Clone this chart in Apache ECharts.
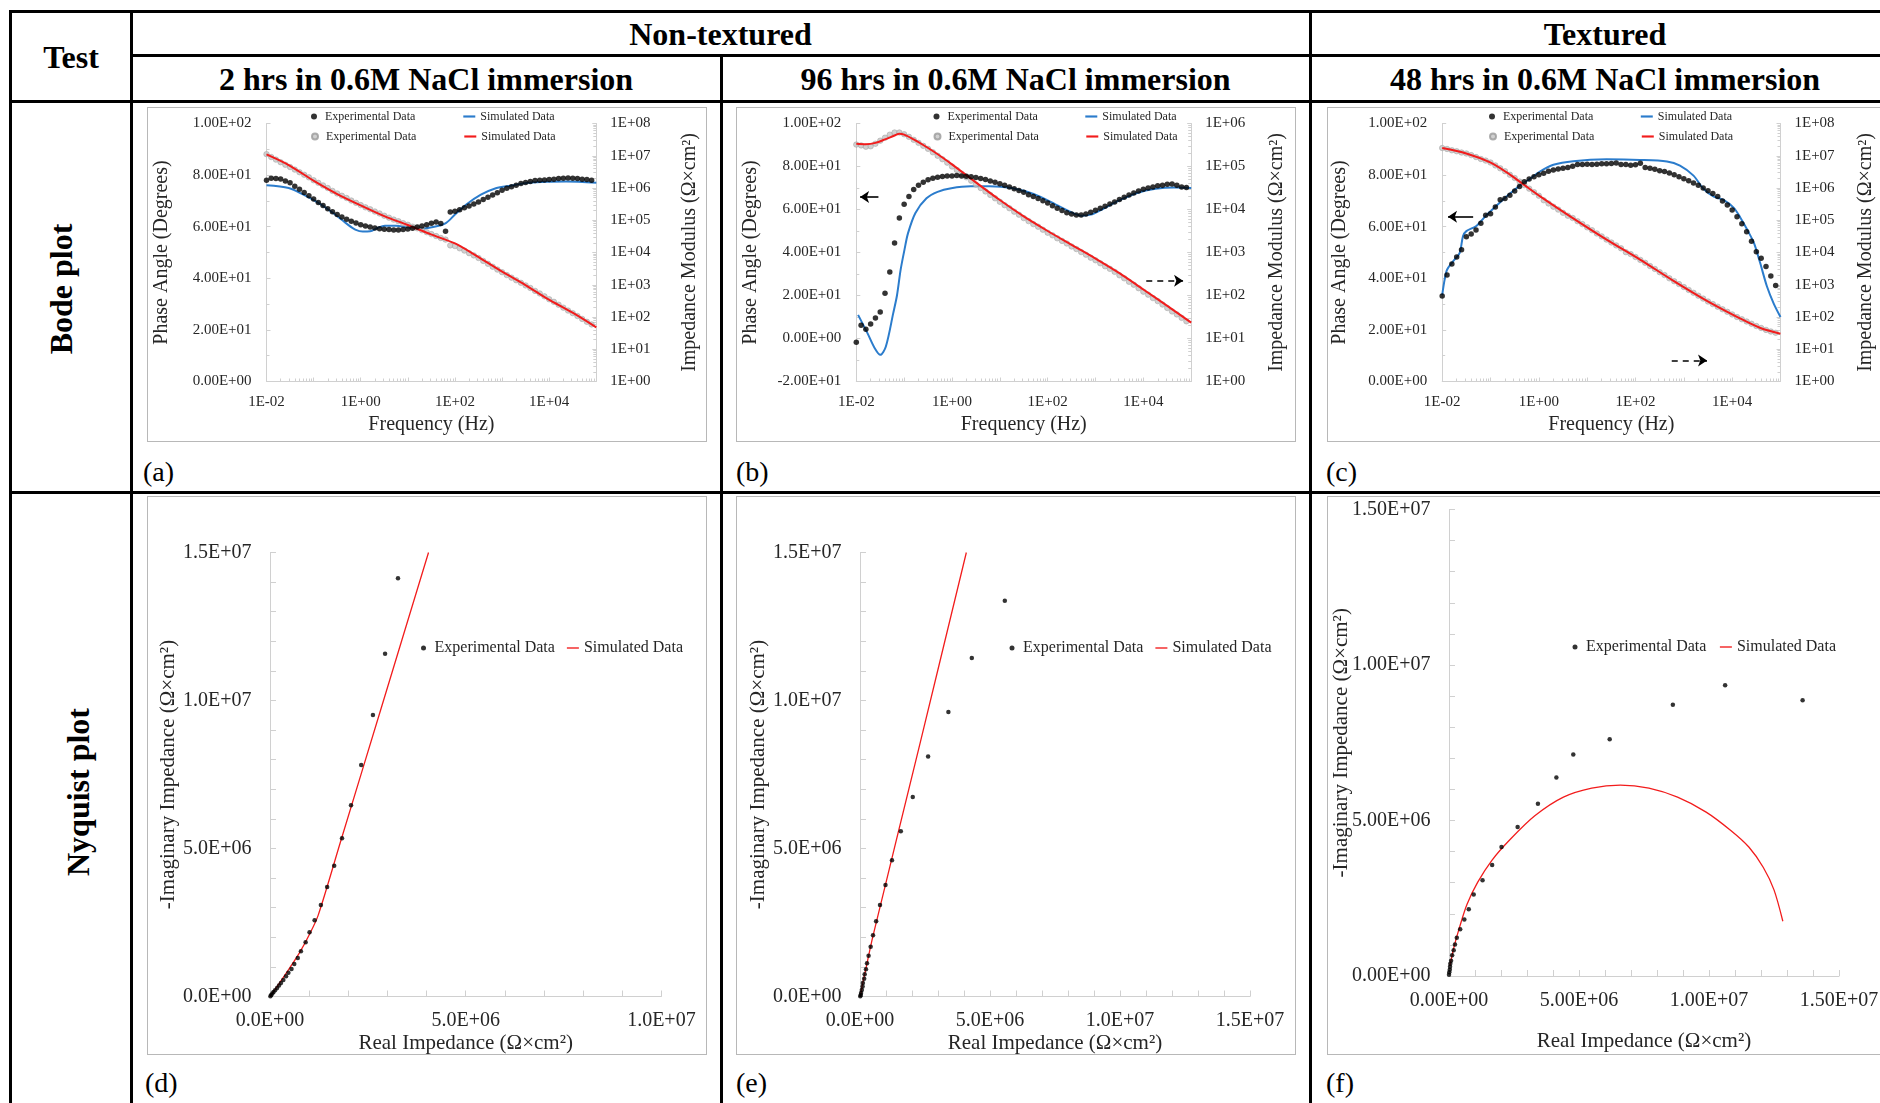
<!DOCTYPE html>
<html>
<head>
<meta charset="utf-8">
<script src="https://cdn.jsdelivr.net/npm/echarts@6/dist/echarts.min.js"></script>
<style>
body { margin: 0; background: #fff; }
#page { position: relative; width: 1880px; height: 1103px; overflow: hidden; font-family: 'Liberation Serif', 'Times New Roman', serif; color: #000; }
.ln { position: absolute; background: #000; }
.hd { position: absolute; transform: translate(-50%, -50%); white-space: nowrap; font-weight: bold; font-size: 32px; line-height: 1; }
.vt { position: absolute; transform: translate(-50%, -50%) rotate(-90deg); white-space: nowrap; font-weight: bold; font-size: 32px; line-height: 1; }
.tag { position: absolute; font-size: 28px; line-height: 1; transform: translateY(-50%); }
.box { position: absolute; border: 1px solid #b8b8b8; width: 558px; }
.bode { height: 333px; top: 107px; }
.nyq { height: 557px; top: 496px; }
.box > div { width: 100%; height: 100%; }
</style>
</head>
<body>
<div id="page">
    <!-- table rules -->
    <div class="ln" style="left:10px;top:10px;width:1900px;height:3px"></div>
    <div class="ln" style="left:131px;top:54px;width:1800px;height:3px"></div>
    <div class="ln" style="left:10px;top:99.5px;width:1900px;height:3px"></div>
    <div class="ln" style="left:10px;top:491px;width:1900px;height:3px"></div>
    <div class="ln" style="left:8.5px;top:10px;width:3px;height:1200px"></div>
    <div class="ln" style="left:130px;top:10px;width:3px;height:1200px"></div>
    <div class="ln" style="left:719.5px;top:54px;width:3px;height:1200px"></div>
    <div class="ln" style="left:1308.5px;top:10px;width:3px;height:1200px"></div>

    <!-- headers -->
    <div class="hd" style="left:71px;top:57px">Test</div>
    <div class="hd" style="left:720.5px;top:34px">Non-textured</div>
    <div class="hd" style="left:1605px;top:34px">Textured</div>
    <div class="hd" style="left:426px;top:79px">2 hrs in 0.6M NaCl immersion</div>
    <div class="hd" style="left:1015.5px;top:79px">96 hrs in 0.6M NaCl immersion</div>
    <div class="hd" style="left:1605px;top:79px">48 hrs in 0.6M NaCl immersion</div>
    <div class="vt" style="left:61px;top:289px">Bode plot</div>
    <div class="vt" style="left:78px;top:792px">Nyquist plot</div>

    <!-- chart boxes -->
    <div class="box bode" style="left:146.5px"><div id="chartA"></div></div>
    <div class="box bode" style="left:735.5px"><div id="chartB"></div></div>
    <div class="box bode" style="left:1326.5px"><div id="chartC"></div></div>
    <div class="box nyq" style="left:146.5px"><div id="chartD"></div></div>
    <div class="box nyq" style="left:735.5px"><div id="chartE"></div></div>
    <div class="box nyq" style="left:1326.5px"><div id="chartF"></div></div>

    <div class="tag" style="left:143px;top:472px">(a)</div>
    <div class="tag" style="left:736px;top:472px">(b)</div>
    <div class="tag" style="left:1326px;top:472px">(c)</div>
    <div class="tag" style="left:145px;top:1083px">(d)</div>
    <div class="tag" style="left:736px;top:1083px">(e)</div>
    <div class="tag" style="left:1326px;top:1083px">(f)</div>
</div>

<script>
const SERIF = "'Liberation Serif', 'Times New Roman', serif"
const BLUE = '#2b7ccc'
const RED = '#f21c1c'
const AXIS_GREY = '#d0d0d0'
const TXT = '#262626'
const LINE_ICON = 'path://M0 0 L14 0 L14 2.5 L0 2.5 Z'

// measured frequencies, ten per decade
const MANT = [1, 1.259, 1.585, 1.995, 2.512, 3.162, 3.981, 5.012, 6.31, 7.943]
const DECADES = [0.01, 0.1, 1, 10, 100, 1000, 10000]
const FREQ = DECADES.flatMap(d => MANT.map(m => +(d * m).toPrecision(4)))

// ---- (a) non-textured, 2 hrs ----
const aPhaseExp = [78.0, 78.8, 78.7, 78.5, 77.7, 77.0, 75.7, 74.5, 73.3, 72.0,
    70.7, 69.4, 68.2, 67.0, 65.8, 64.7, 63.8, 62.9, 62.1, 61.4,
    60.8, 60.3, 59.9, 59.5, 59.2, 59.0, 58.9, 58.7, 58.7, 58.9,
    59.1, 59.4, 59.9, 60.3, 60.8, 61.3, 61.8, 61.2, 58.2, 65.7,
    66.0, 66.6, 67.3, 68.0, 68.8, 69.6, 70.5, 71.4, 72.3, 73.2,
    74.1, 74.9, 75.5, 76.1, 76.7, 77.1, 77.5, 77.9, 78.0, 78.1,
    78.3, 78.4, 78.7, 78.8, 78.9, 78.8, 78.7, 78.4, 78.3, 78.0]
// log10 of |Z|
const aModExp = [7.05, 6.96, 6.88, 6.80, 6.72, 6.65, 6.57, 6.49, 6.41, 6.33,
    6.24, 6.16, 6.08, 6.00, 5.91, 5.83, 5.76, 5.69, 5.61, 5.54,
    5.47, 5.40, 5.34, 5.27, 5.21, 5.14, 5.08, 5.02, 4.97, 4.91,
    4.86, 4.80, 4.75, 4.69, 4.63, 4.57, 4.51, 4.45, 4.40, 4.22,
    4.20, 4.13, 4.06, 3.98, 3.91, 3.83, 3.74, 3.65, 3.56, 3.47,
    3.39, 3.30, 3.22, 3.14, 3.06, 2.98, 2.90, 2.81, 2.73, 2.64,
    2.55, 2.47, 2.38, 2.29, 2.20, 2.12, 2.03, 1.94, 1.85, 1.77]
const aSimPhaseF = [0.01, 0.0296, 0.061, 0.126, 0.259, 0.533, 0.766, 1.1, 1.58, 2.26, 3.25, 5.58, 9.6,
    19.8, 40.8, 64, 100, 174, 355, 736, 1515, 3740, 9230, 22800, 100000]
const aSimPhase = [76.1, 75.0, 72.4, 69.2, 65.3, 60.8, 58.9, 58.1, 58.2, 59.5, 60.4, 60.4, 59.8,
    59.3, 60.2, 61.4, 64.7, 68.6, 72.4, 74.9, 75.9, 77.0, 77.4, 77.5, 77.0]
const aSimModF = [0.01, 0.0296, 0.0993, 0.31, 1.0, 3.25, 9.6, 31, 100, 298, 964, 3126, 9230, 32700, 100000]
const aSimMod = [7.04, 6.71, 6.23, 5.82, 5.46, 5.12, 4.86, 4.56, 4.28, 3.88, 3.42, 2.99, 2.56, 2.12, 1.68]

// ---- (b) non-textured, 96 hrs ----
const bPhaseExp = [-1.7, 6.2, 4.3, 6.7, 9.5, 12.3, 21.1, 30.9, 44.4, 56.1,
    62.4, 66.1, 69.3, 71.3, 72.7, 73.8, 74.5, 75.0, 75.3, 75.6,
    75.6, 75.8, 75.6, 75.5, 75.2, 74.9, 74.4, 73.9, 73.3, 72.7,
    72.0, 71.3, 70.5, 69.6, 68.8, 68.0, 66.9, 66.0, 65.1, 64.1,
    63.0, 61.8, 60.6, 59.5, 58.5, 57.9, 57.5, 57.5, 57.9, 58.7,
    59.6, 60.6, 61.5, 62.6, 63.5, 64.6, 65.7, 66.8, 67.7, 68.6,
    69.4, 70.0, 70.5, 71.1, 71.3, 71.7, 71.9, 71.3, 70.5, 70.2]
const bModExp = [5.51, 5.49, 5.46, 5.47, 5.53, 5.60, 5.67, 5.74, 5.79, 5.79,
    5.75, 5.69, 5.62, 5.55, 5.48, 5.41, 5.33, 5.25, 5.17, 5.09,
    5.00, 4.92, 4.83, 4.75, 4.67, 4.58, 4.50, 4.42, 4.34, 4.26,
    4.18, 4.10, 4.03, 3.95, 3.88, 3.80, 3.73, 3.66, 3.60, 3.53,
    3.46, 3.40, 3.33, 3.27, 3.21, 3.14, 3.08, 3.01, 2.95, 2.88,
    2.82, 2.75, 2.68, 2.62, 2.55, 2.47, 2.40, 2.32, 2.25, 2.17,
    2.09, 2.02, 1.94, 1.87, 1.79, 1.71, 1.63, 1.56, 1.48, 1.40]
const bSimPhaseF = [0.0109, 0.0171, 0.0243, 0.0318, 0.0415, 0.0592, 0.0708, 0.0845, 0.101, 0.1206,
    0.172, 0.293, 0.5, 0.966, 2.48, 6.03, 17.5, 50.9, 148, 301, 513, 800, 1250, 3040, 7400, 18000, 43700, 100000]
const bSimPhase = [11.0, 2.5, -4.5, -7.6, -3.7, 11.8, 20.0, 32.0, 41.0, 49.0,
    58.4, 65.2, 68.2, 69.9, 70.8, 70.8, 70.0, 67.2, 62.3, 58.9, 57.1, 57.6, 59.6, 64.1, 67.7, 69.6, 70.2, 70.0]
const bSimModF = [0.01, 0.0158, 0.0251, 0.0398, 0.0631, 0.0794, 0.1, 0.158, 0.251, 0.398, 0.631, 1,
    3.16, 10, 31.6, 100, 316, 1000, 3160, 10000, 31600, 100000]
const bSimMod = [5.53, 5.52, 5.55, 5.63, 5.72, 5.76, 5.74, 5.63, 5.50, 5.36, 5.21, 5.05,
    4.63, 4.22, 3.84, 3.50, 3.18, 2.86, 2.52, 2.14, 1.76, 1.37]
// arrows: [from, to] as [Hz, degrees]
const bArrowSolid = [[0.029, 65.8], [0.012, 65.8]]
const bArrowDash = [[11500, 26.9], [67600, 26.9]]

// ---- (c) textured, 48 hrs ----
const cPhaseExp = [33.1, 41.3, 45.5, 48.3, 51.1, 56.1, 57.2, 58.7, 61.3, 64.4,
    65.0, 67.6, 70.4, 70.9, 72.2, 73.8, 75.6, 77.4, 78.5, 79.4,
    80.1, 80.7, 81.5, 82.0, 82.4, 82.7, 82.9, 83.4, 84.1, 84.1,
    84.2, 84.1, 84.2, 84.4, 84.4, 84.5, 84.7, 84.1, 84.1, 83.8,
    84.0, 84.6, 82.9, 82.7, 82.3, 81.7, 81.4, 80.8, 80.1, 79.4,
    78.6, 77.8, 76.9, 76.1, 75.0, 73.9, 72.9, 71.7, 70.0, 68.4,
    66.5, 63.9, 61.1, 58.0, 54.4, 50.3, 47.8, 44.6, 40.9, 37.2]
const cModExp = [7.24, 7.21, 7.17, 7.14, 7.10, 7.07, 7.02, 6.96, 6.90, 6.85,
    6.79, 6.70, 6.61, 6.52, 6.41, 6.31, 6.20, 6.09, 5.98, 5.87,
    5.76, 5.62, 5.52, 5.42, 5.33, 5.23, 5.14, 5.07, 4.97, 4.88,
    4.78, 4.69, 4.59, 4.50, 4.40, 4.31, 4.22, 4.13, 4.01, 3.95,
    3.86, 3.77, 3.68, 3.58, 3.49, 3.39, 3.30, 3.20, 3.11, 3.02,
    2.93, 2.84, 2.75, 2.66, 2.57, 2.48, 2.40, 2.32, 2.24, 2.16,
    2.08, 2.00, 1.93, 1.86, 1.79, 1.72, 1.66, 1.60, 1.55, 1.51]
const cSimPhaseF = [0.01, 0.0112, 0.0126, 0.0166, 0.0229, 0.0269, 0.0316, 0.0501, 0.0813, 0.132, 0.214,
    0.398, 0.646, 1.05, 2.0, 5.13, 25.1, 123, 447, 832, 1585, 2570, 4170, 6610, 10700, 14800,
    20400, 28200, 38000, 52500, 72400, 100000]
const cSimPhase = [33.5, 39.4, 43.3, 46.5, 49.8, 56.3, 58.3, 60.2, 64.4, 68.1, 71.7,
    75.9, 78.5, 81.4, 84.0, 85.4, 86.1, 85.9, 85.3, 83.7, 79.8, 74.6, 71.7, 70.4, 67.4, 63.5,
    58.9, 53.7, 45.9, 36.8, 30.2, 25.0]
const cSimModF = [0.01, 0.0315, 0.096, 0.213, 0.472, 1.045, 5.14, 25.2, 124, 611, 3000, 14800, 38400, 99500]
const cSimMod = [7.24, 7.07, 6.80, 6.49, 6.12, 5.75, 5.06, 4.40, 3.78, 3.12, 2.50, 1.95, 1.66, 1.48]
const cArrowSolid = [[0.0437, 63.9], [0.0132, 63.9]]
const cArrowDash = [[562, 8.1], [3020, 8.1]]

// ---- Nyquist, values in 1E+06 Ω×cm² ----
const dReExp = [0.01, 0.03, 0.06, 0.09, 0.13, 0.18, 0.23, 0.28, 0.34, 0.41, 0.47, 0.55, 0.62, 0.71,
    0.79, 0.91, 1.01, 1.14, 1.30, 1.46, 1.64, 1.84, 2.07, 2.33, 2.63, 2.94, 3.27]
const dImExp = [0.01, 0.05, 0.10, 0.15, 0.21, 0.29, 0.37, 0.46, 0.56, 0.68, 0.80, 0.93, 1.10, 1.30,
    1.53, 1.83, 2.17, 2.58, 3.09, 3.70, 4.42, 5.35, 6.46, 7.82, 9.51, 11.58, 14.13]
const dReSim = [0, 0.19, 0.38, 0.57, 0.76, 0.99, 1.23, 1.80, 2.84, 4.05]
const dImSim = [0, 0.35, 0.72, 1.10, 1.49, 2.05, 2.74, 5.22, 9.74, 15.0]

const eReExp = [0.01, 0.03, 0.04, 0.07, 0.10, 0.11, 0.16, 0.18, 0.23, 0.27, 0.33, 0.41, 0.50, 0.62,
    0.77, 0.98, 1.23, 1.57, 2.03, 2.62, 3.40, 4.30, 5.57]
const eImExp = [0.01, 0.05, 0.12, 0.22, 0.34, 0.46, 0.60, 0.75, 0.92, 1.12, 1.38, 1.68, 2.07, 2.54,
    3.09, 3.77, 4.60, 5.58, 6.74, 8.11, 9.61, 11.44, 13.37]
const eReSim = [0, 0.04, 0.085, 0.21, 0.50, 2.30, 4.09]
const eImSim = [0, 0.12, 0.37, 0.87, 2.05, 8.52, 15.0]

const fReExp = [0.00, 0.01, 0.03, 0.04, 0.05, 0.08, 0.12, 0.18, 0.23, 0.30, 0.43, 0.59, 0.76, 0.95,
    1.29, 1.66, 2.02, 2.64, 3.42, 4.13, 4.78, 6.18, 8.61, 10.62, 13.60]
const fImExp = [0.04, 0.12, 0.20, 0.30, 0.39, 0.49, 0.67, 0.83, 1.01, 1.23, 1.50, 1.82, 2.15, 2.62,
    3.08, 3.57, 4.15, 4.79, 5.54, 6.38, 7.12, 7.61, 8.72, 9.35, 8.87]
const fReSim = [0.03, 0.08, 0.21, 0.41, 0.69, 1.10, 1.65, 2.34, 3.30, 4.40, 5.49, 6.59, 7.69, 8.79,
    9.89, 10.85, 11.54, 12.09, 12.50, 12.84]
const fImSim = [0.33, 0.51, 0.99, 1.58, 2.30, 3.01, 3.72, 4.38, 5.15, 5.75, 6.04, 6.14, 6.04, 5.75,
    5.27, 4.67, 4.14, 3.49, 2.77, 1.76]

// 1.00E+02 style labels
function sci(v, digits) {
    if (Math.abs(v) < 1e-12) return (0).toFixed(digits) + 'E+00'
    let e = Math.floor(Math.log10(Math.abs(v)) + 1e-9)
    let s = (v / Math.pow(10, e)).toFixed(digits)
    if (Math.abs(parseFloat(s)) >= 10) {
        e += 1
        s = (v / Math.pow(10, e)).toFixed(digits)
    }
    return s + 'E' + (e < 0 ? '-' : '+') + String(Math.abs(e)).padStart(2, '0')
}

const pairs = (xs, ys) => xs.map((x, i) => [x, ys[i]])
const pow10 = v => Math.pow(10, v)
const mega = v => v * 1e6
const axisLine = { show: true, onZero: false, lineStyle: { color: AXIS_GREY, width: 1 } }
const axisTick = { show: true, inside: true, length: 4, lineStyle: { color: AXIS_GREY } }
const logMinor = { show: true, splitNumber: 9, length: 3, lineStyle: { color: AXIS_GREY } }

function arrowLine(solid, dash) {
    return {
        silent: true,
        animation: false,
        symbol: ['none', 'arrow'],
        symbolSize: 9,
        label: { show: false },
        lineStyle: { color: '#000', width: 1.6 },
        data: [
            [{ coord: solid[0], lineStyle: { type: 'solid' } }, { coord: solid[1] }],
            [{ coord: dash[0], lineStyle: { type: [6, 5] } }, { coord: dash[1] }]
        ]
    }
}

function bodeOption(c) {
    const legendBase = {
        orient: 'horizontal', padding: 0, itemWidth: 12, itemHeight: 6,
        left: c.legendLeft, itemGap: c.legendGap, selectedMode: false,
        formatter: n => n.trim(),
        textStyle: { fontFamily: SERIF, fontSize: 12, color: TXT }
    }
    const nameStyle = { fontFamily: SERIF, fontSize: 20, color: TXT }
    const lbl = { fontFamily: SERIF, fontSize: 15, color: TXT }
    const modExp = c.modExp.map((v, i) => [FREQ[i], pow10(v)])
    const phaseExp = c.phaseExp.map((v, i) => [FREQ[i], v])
    const blackDots = {
        name: 'Experimental Data', type: 'scatter', yAxisIndex: 0, data: phaseExp,
        symbolSize: 5.5, itemStyle: { color: '#000' }, z: 5
    }
    if (c.arrows) blackDots.markLine = arrowLine(c.arrows[0], c.arrows[1])
    return {
        animation: false,
        grid: { left: c.grid[0], right: c.grid[1], top: 15.5, bottom: 59.5, outerBoundsMode: 'none', containLabel: false },
        legend: [
            Object.assign({}, legendBase, {
                top: 2.5,
                data: ['Experimental Data', { name: 'Simulated Data', icon: LINE_ICON }]
            }),
            Object.assign({}, legendBase, {
                top: 22.5,
                data: ['Experimental Data ', { name: 'Simulated Data ', icon: LINE_ICON }]
            })
        ],
        xAxis: {
            type: 'log', logBase: 10, min: 0.01, max: 100000,
            name: 'Frequency (Hz)', nameLocation: 'middle', nameGap: 33, nameTextStyle: nameStyle,
            nameMoveOverlap: false,
            axisLine, axisTick, minorTick: logMinor, splitLine: { show: false }, minorSplitLine: { show: false },
            axisLabel: Object.assign({}, lbl, {
                margin: 13,
                formatter: v => (Math.round(Math.log10(v)) % 2 === 0 ? sci(v, 0) : '')
            })
        },
        yAxis: [
            {
                type: 'value', min: c.phaseMin, max: 100, interval: 20, position: 'left',
                name: 'Phase Angle (Degrees)', nameLocation: 'middle', nameRotate: 90, nameGap: c.gapL,
                nameTextStyle: nameStyle, nameMoveOverlap: false, axisLine, axisTick,
                minorTick: { show: true, splitNumber: 2, length: 3, lineStyle: { color: AXIS_GREY } },
                splitLine: { show: false }, minorSplitLine: { show: false },
                axisLabel: Object.assign({}, lbl, { margin: 15, formatter: v => sci(v, 2) })
            },
            {
                type: 'log', logBase: 10, min: 1, max: c.modMax, position: 'right',
                name: 'Impedance Modulus (Ω×cm²)', nameLocation: 'middle', nameRotate: 90, nameGap: c.gapR,
                nameTextStyle: nameStyle, nameMoveOverlap: false, axisLine, axisTick, minorTick: logMinor,
                splitLine: { show: false }, minorSplitLine: { show: false },
                axisLabel: Object.assign({}, lbl, { margin: 14, formatter: v => sci(v, 0) })
            }
        ],
        series: [
            {
                name: 'Simulated Data', type: 'line', yAxisIndex: 0, data: pairs(c.simPhaseF, c.simPhase),
                symbol: 'none', smooth: 0.3, lineStyle: { color: BLUE, width: 2 }, itemStyle: { color: BLUE }, z: 2
            },
            {
                name: 'Experimental Data ', type: 'scatter', yAxisIndex: 1, data: modExp, symbolSize: 5.5,
                itemStyle: { color: '#c4c4c4', borderColor: '#9a9a9a', borderWidth: 0.6 }, z: 3
            },
            {
                name: 'Simulated Data ', type: 'line', yAxisIndex: 1,
                data: c.simModF.map((f, i) => [f, pow10(c.simMod[i])]),
                symbol: 'none', smooth: 0.3, lineStyle: { color: RED, width: 2 }, itemStyle: { color: RED }, z: 4
            },
            blackDots
        ]
    }
}

function nyqOption(c) {
    const nameStyle = { fontFamily: SERIF, fontSize: 21, color: TXT }
    const lbl = { fontFamily: SERIF, fontSize: 20, color: TXT }
    const tick = { show: true, inside: true, length: 6, lineStyle: { color: AXIS_GREY } }
    const minor = { show: true, splitNumber: 5, length: 6, lineStyle: { color: AXIS_GREY } }
    return {
        animation: false,
        grid: { left: c.grid[0], right: c.grid[1], top: c.grid[2], bottom: c.grid[3], outerBoundsMode: 'none', containLabel: false },
        legend: {
            orient: 'horizontal', padding: 0, itemWidth: 12, itemHeight: 5, selectedMode: false,
            left: c.legendLeft, top: c.legendTop, itemGap: c.legendGap,
            data: ['Experimental Data', { name: 'Simulated Data', icon: 'path://M0 0 L14 0 L14 1.6 L0 1.6 Z' }],
            textStyle: { fontFamily: SERIF, fontSize: 16, color: TXT }
        },
        xAxis: {
            type: 'value', min: 0, max: c.xMax, interval: 5e6,
            name: 'Real Impedance (Ω×cm²)', nameLocation: 'middle', nameGap: c.xNameGap, nameTextStyle: nameStyle,
            nameMoveOverlap: false,
            axisLine, axisTick: tick, minorTick: minor, splitLine: { show: false }, minorSplitLine: { show: false },
            axisLabel: Object.assign({}, lbl, { margin: 14.5, formatter: v => sci(v, c.digits) })
        },
        yAxis: {
            type: 'value', min: 0, max: 1.5e7, interval: 5e6,
            name: '-Imaginary Impedance (Ω×cm²)', nameLocation: 'middle', nameRotate: 90, nameGap: c.yNameGap,
            nameTextStyle: nameStyle, nameMoveOverlap: false,
            axisLine, axisTick: tick, minorTick: minor, splitLine: { show: false }, minorSplitLine: { show: false },
            axisLabel: Object.assign({}, lbl, { margin: 18.5, formatter: v => sci(v, c.digits) })
        },
        series: [
            {
                name: 'Simulated Data', type: 'line', data: c.sim, symbol: 'none', smooth: 0.3,
                lineStyle: { color: RED, width: 1.3 }, itemStyle: { color: RED }, z: 2
            },
            {
                name: 'Experimental Data', type: 'scatter', data: c.exp, symbolSize: 4.5,
                itemStyle: { color: '#000' }, z: 3
            }
        ]
    }
}

const toMega = (re, im) => re.map((x, i) => [mega(x), mega(im[i])])

echarts.init(document.getElementById('chartA')).setOption(bodeOption({
    grid: [118.5, 109.7], phaseMin: 0, modMax: 1e8, gapL: 95, gapR: 83.5,
    legendLeft: 163, legendGap: 48,
    phaseExp: aPhaseExp, modExp: aModExp,
    simPhaseF: aSimPhaseF, simPhase: aSimPhase, simModF: aSimModF, simMod: aSimMod
}))

echarts.init(document.getElementById('chartB')).setOption(bodeOption({
    grid: [119.3, 103.8], phaseMin: -20, modMax: 1e6, gapL: 95.5, gapR: 75.5,
    legendLeft: 196.5, legendGap: 47.5,
    phaseExp: bPhaseExp, modExp: bModExp,
    simPhaseF: bSimPhaseF, simPhase: bSimPhase, simModF: bSimModF, simMod: bSimMod,
    arrows: [bArrowSolid, bArrowDash]
}))

echarts.init(document.getElementById('chartC')).setOption(bodeOption({
    grid: [114.2, 105.5], phaseMin: 0, modMax: 1e8, gapL: 92, gapR: 75.5,
    legendLeft: 161, legendGap: 47.5,
    phaseExp: cPhaseExp, modExp: cModExp,
    simPhaseF: cSimPhaseF, simPhase: cSimPhase, simModF: cSimModF, simMod: cSimMod,
    arrows: [cArrowSolid, cArrowDash]
}))

echarts.init(document.getElementById('chartD')).setOption(nyqOption({
    grid: [122, 44.6, 55.5, 57.5], xMax: 1e7, digits: 1, xNameGap: 36, yNameGap: 91,
    legendLeft: 273, legendTop: 143, legendGap: 12,
    exp: toMega(dReExp, dImExp), sim: toMega(dReSim, dImSim)
}))

echarts.init(document.getElementById('chartE')).setOption(nyqOption({
    grid: [123, 45, 55.5, 57.5], xMax: 1.5e7, digits: 1, xNameGap: 36, yNameGap: 91,
    legendLeft: 272.5, legendTop: 143, legendGap: 12,
    exp: toMega(eReExp, eImExp), sim: toMega(eReSim, eImSim)
}))

echarts.init(document.getElementById('chartF')).setOption(nyqOption({
    grid: [121, 47, 12.5, 78], xMax: 1.5e7, digits: 2, xNameGap: 54.5, yNameGap: 97,
    legendLeft: 244.5, legendTop: 142, legendGap: 13.5,
    exp: toMega(fReExp, fImExp), sim: toMega(fReSim, fImSim)
}))
</script>
</body>
</html>
